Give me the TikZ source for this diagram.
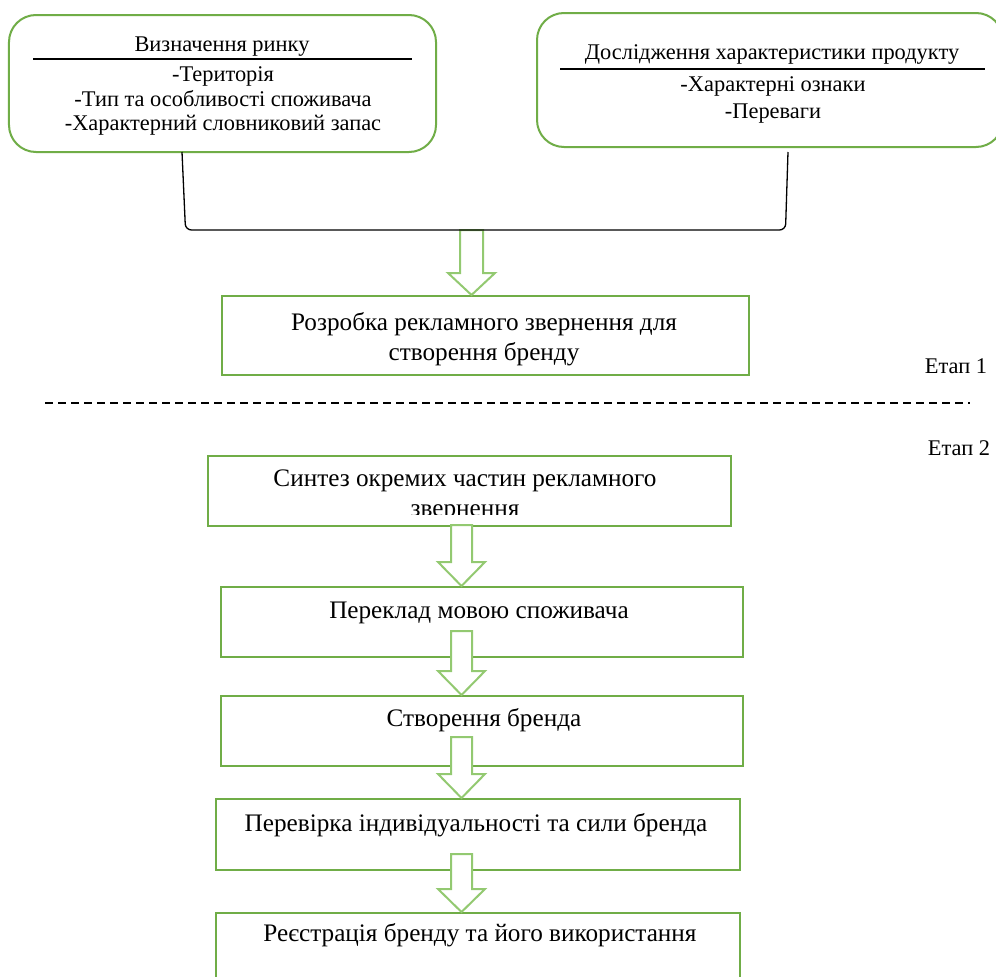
\documentclass[tikz,border=0pt]{standalone}
\usepackage{fontspec}
\setmainfont{Liberation Serif}
\usetikzlibrary{calc}
\definecolor{boxgreen}{HTML}{70AD47}
\definecolor{arrgreen}{HTML}{93C971}
\newcommand\blockarr[7]{%
\draw[barrow] let \p1=(#1), \p2=(#2) in
 ({(#3-#6)*1bp},{\y1+#4*1bp}) -- ({(#3+#6)*1bp},{\y1+#4*1bp}) --
 ({(#3+#6)*1bp},{\y2+#5*1bp}) -- ({(#3+#7)*1bp},{\y2+#5*1bp}) --
 ({#3*1bp},\y2) -- ({(#3-#7)*1bp},{\y2+#5*1bp}) --
 ({(#3-#6)*1bp},{\y2+#5*1bp}) -- cycle;}
\begin{document}
\begin{tikzpicture}[x=1bp,y=-1bp,
  boxg/.style={draw=boxgreen, line width=2bp, rectangle, inner sep=0pt},
  rbox/.style={boxg, rounded corners=27bp},
  txt/.style={font=\fontsize{25.3}{30}\selectfont, align=center, inner sep=0pt},
  ttop/.style={font=\fontsize{22.5}{24}\selectfont, align=center, inner sep=0pt},
  etap/.style={font=\fontsize{22.5}{24}\selectfont, inner sep=0pt},
  barrow/.style={draw=arrgreen, line width=2bp, fill=white, line join=miter},
  brline/.style={draw=black, line width=1.3bp, rounded corners=6bp},
  rule/.style={draw=black, line width=1.3bp}]
\useasboundingbox[fill=white] (0,0) rectangle (996,977);

% top boxes
\node[rbox, minimum width=427bp, minimum height=137bp] (tl) at (222.5,83.5) {};
\node[rbox, minimum width=466bp, minimum height=134bp] (tr) at (770,80) {};
\node[ttop] (tlt) at (222,46.5) {Визначення ринку};
\draw[rule] (33,59) -- (412,59);
\node[ttop, font=\fontsize{22.5}{24.5}\selectfont] (tli) at (223,101) {-Територія\\-Тип та особливості споживача\\-Характерний словниковий запас};
\node[ttop] (trt) at (772,54.5) {Дослідження характеристики продукту};
\draw[rule] (560,69) -- (985,69);
\node[ttop, font=\fontsize{22.5}{27}\selectfont] (tri) at (773,100) {-Характерні ознаки\\-Переваги};

% bracket
\coordinate (bl1) at (182,152);
\coordinate (bl2) at (185.5,230);
\coordinate (br2) at (785.5,230);
\coordinate (br1) at (788,152);
\coordinate (brk) at (471.5,230);

% stage 1 box
\node[boxg, minimum width=527bp, minimum height=79bp] (r1) at (485.5,335.5) {};
\blockarr{brk}{r1.north}{471.5}{0}{22}{11.5}{23.5}
\draw[brline] (bl1) -- (bl2) -- (br2) -- (br1);
\node[txt] (r1t) at (484,339.5) {Розробка рекламного звернення для\\створення бренду};

\node[etap] (e1) at (956,366) {Етап 1};
\coordinate (dl) at (45,403);
\coordinate (dr) at (970,403);
\draw[black, line width=1.3bp, dash pattern=on 8bp off 5bp] (dl) -- (dr);
\node[etap] (e2) at (959,448) {Етап 2};

% stage 2 boxes
\node[boxg, minimum width=523bp, minimum height=70bp] (b1) at (469.5,491) {};
\node[boxg, minimum width=522bp, minimum height=70bp] (b2) at (482,622) {};
\node[boxg, minimum width=522bp, minimum height=70bp] (b3) at (482,731) {};
\node[boxg, minimum width=524bp, minimum height=71bp] (b4) at (478,834.5) {};
\node[boxg, minimum width=524bp, minimum height=82bp] (b5) at (478,954) {};

\blockarr{b1.south}{b2.north}{461.5}{2}{24}{10.5}{23.5}
\blockarr{b2.south}{b3.north}{461.5}{27}{24}{10.5}{23.5}
\blockarr{b3.south}{b4.north}{461.5}{30}{24}{10.5}{23.5}
\blockarr{b4.south}{b5.north}{461.5}{17}{23}{10.5}{23.5}

\begin{scope}
\clip (208,456) rectangle (731,514);
\node[txt] (b1t) at (465,495.5) {Синтез окремих частин рекламного\\звернення};
\end{scope}
\node[txt] (b2t) at (479,612.5) {Переклад мовою споживача};
\node[txt] (b3t) at (484,720.5) {Створення бренда};
\node[txt] (b4t) at (476,825.5) {Перевірка індивідуальності та сили бренда};
\node[txt] (b5t) at (480,935.5) {Реєстрація бренду та його використання};
\end{tikzpicture}
\end{document}
